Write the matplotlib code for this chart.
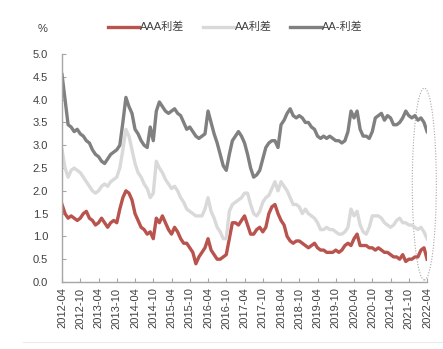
import matplotlib
matplotlib.use("Agg")
import matplotlib.pyplot as plt
import numpy as np
from matplotlib.patches import Ellipse
from matplotlib.lines import Line2D

plt.rcParams["font.family"] = ["Liberation Sans", "Noto Sans CJK SC", "DejaVu Sans"]

# Monthly readings, 2012-04 .. 2022-04 (121 points), unit %
aaa_spread = [
    1.70, 1.50, 1.40, 1.45, 1.40, 1.35, 1.40, 1.50, 1.55, 1.40, 1.35, 1.25,
    1.30, 1.40, 1.30, 1.20, 1.30, 1.35, 1.30, 1.60, 1.85, 2.00, 1.95, 1.80,
    1.50, 1.35, 1.20, 1.15, 1.05, 1.10, 0.95, 1.40, 1.30, 1.45, 1.30, 1.15,
    1.05, 1.20, 1.10, 0.95, 0.85, 0.85, 0.75, 0.65, 0.40, 0.55, 0.65, 0.75,
    0.95, 0.70, 0.60, 0.50, 0.50, 0.55, 0.60, 0.95, 1.30, 1.30, 1.25, 1.35,
    1.45, 1.25, 1.05, 1.05, 1.15, 1.20, 1.10, 1.20, 1.50, 1.65, 1.70, 1.50,
    1.35, 1.25, 1.00, 0.90, 0.85, 0.90, 0.90, 0.85, 0.80, 0.75, 0.80, 0.85,
    0.75, 0.70, 0.70, 0.65, 0.65, 0.65, 0.70, 0.65, 0.70, 0.80, 0.85, 0.80,
    0.95, 1.05, 0.80, 0.80, 0.80, 0.75, 0.75, 0.70, 0.75, 0.70, 0.65, 0.65,
    0.60, 0.55, 0.55, 0.50, 0.60, 0.45, 0.50, 0.50, 0.55, 0.55, 0.70, 0.75,
    0.50,
]
aa_spread = [
    2.90, 2.50, 2.30, 2.45, 2.50, 2.45, 2.40, 2.30, 2.20, 2.10, 2.00, 1.95,
    2.00, 2.10, 2.15, 2.10, 2.20, 2.25, 2.30, 2.50, 2.90, 3.35, 3.20, 2.90,
    2.60, 2.40, 2.30, 2.15, 2.05, 1.85, 1.95, 2.65, 2.50, 2.40, 2.25, 2.15,
    2.05, 2.10, 2.00, 1.85, 1.75, 1.60, 1.55, 1.50, 1.45, 1.45, 1.45, 1.60,
    1.85, 1.55, 1.40, 1.20, 1.10, 0.95, 0.95, 1.55, 1.70, 1.75, 1.80, 1.85,
    1.95, 1.95, 1.70, 1.50, 1.45, 1.55, 1.75, 1.85, 1.90, 2.05, 2.20, 2.00,
    2.20, 2.10, 2.00, 1.85, 1.70, 1.70, 1.65, 1.50, 1.60, 1.50, 1.45, 1.40,
    1.30, 1.15, 1.15, 1.20, 1.15, 1.15, 1.10, 1.05, 1.05, 1.10, 1.20, 1.60,
    1.45, 1.55, 1.25, 1.10, 1.05, 1.20, 1.45, 1.45, 1.45, 1.40, 1.30, 1.25,
    1.20, 1.25, 1.35, 1.40, 1.30, 1.30, 1.25, 1.25, 1.20, 1.15, 1.20, 1.10,
    0.95,
]
aa_minus_spread = [
    4.55, 4.00, 3.45, 3.40, 3.30, 3.35, 3.25, 3.20, 3.10, 3.05, 2.90, 2.80,
    2.75, 2.65, 2.60, 2.70, 2.80, 2.85, 2.90, 3.00, 3.50, 4.05, 3.85, 3.70,
    3.35, 3.25, 3.10, 3.00, 2.95, 3.40, 3.10, 3.75, 3.95, 3.85, 3.75, 3.70,
    3.75, 3.80, 3.70, 3.65, 3.50, 3.35, 3.40, 3.30, 3.20, 3.15, 3.20, 3.25,
    3.75, 3.50, 3.25, 3.05, 2.80, 2.55, 2.45, 2.80, 3.10, 3.20, 3.30, 3.20,
    3.05, 2.80, 2.50, 2.30, 2.35, 2.45, 2.70, 2.95, 3.05, 3.10, 3.10, 2.95,
    3.45, 3.55, 3.70, 3.80, 3.65, 3.60, 3.65, 3.60, 3.50, 3.50, 3.40, 3.35,
    3.20, 3.15, 3.20, 3.15, 3.20, 3.15, 3.10, 3.10, 3.05, 3.10, 3.30, 3.75,
    3.60, 3.75, 3.35, 3.20, 3.20, 3.15, 3.30, 3.60, 3.65, 3.70, 3.55, 3.65,
    3.60, 3.45, 3.45, 3.50, 3.60, 3.75, 3.65, 3.60, 3.65, 3.55, 3.60, 3.50,
    3.30,
]
tick_labels = [
    "2012-04", "2012-10", "2013-04", "2013-10", "2014-04", "2014-10",
    "2015-04", "2015-10", "2016-04", "2016-10", "2017-04", "2017-10",
    "2018-04", "2018-10", "2019-04", "2019-10", "2020-04", "2020-10",
    "2021-04", "2021-10", "2022-04",
]
series_names = ["AAA利差", "AA利差", "AA-利差"]

months = np.arange(len(aaa_spread))
colors = ["#B9534E", "#D9D9D9", "#808080"]
text_color = "#404040"

fig = plt.figure(figsize=(4.43, 3.49), dpi=100)
ax = fig.add_axes([0.140, 0.192, 0.824, 0.653])

for vals, col, name in zip([aaa_spread, aa_spread, aa_minus_spread], colors, series_names):
    ax.plot(months, vals, color=col, lw=2.4, label=name, solid_joinstyle="round")

ax.set_xlim(0, 120)
ax.set_ylim(0, 5)
ax.set_yticks(np.arange(0, 5.01, 0.5))
ax.set_yticklabels([f"{v:.1f}" for v in np.arange(0, 5.01, 0.5)])
ax.set_xticks(np.arange(0, 121, 6))
ax.set_xticklabels(tick_labels, rotation=90)
ax.tick_params(axis="both", direction="in", length=3, color="#A6A6A6",
               labelsize=8, labelcolor=text_color)
ax.tick_params(axis="x", pad=4)
ax.tick_params(axis="y", pad=10)

for side in ["top", "right"]:
    ax.spines[side].set_visible(False)
for side in ["left", "bottom"]:
    ax.spines[side].set_color("#A6A6A6")
    ax.spines[side].set_linewidth(1.0)

# dotted highlight round the latest readings
ell = Ellipse((119.1, 2.15), 7.9, 4.21, fill=False, ls=(0, (1, 1.5)),
              lw=0.8, edgecolor="#A6A6A6", clip_on=False)
ax.add_patch(ell)

fig.text(0.095, 0.918, "%", fontsize=8, color=text_color, ha="center", va="center")
ax.legend(loc="center", bbox_to_anchor=(0.475, 1.118), ncol=3, frameon=False,
          fontsize=8, handlelength=2.8, handletextpad=0.1, columnspacing=1.6,
          labelcolor=text_color)

fig.add_artist(Line2D([0.052, 1.0], [0.02, 0.02], color="#EBEBEB", lw=0.8))

plt.savefig("out.png", dpi=100)
